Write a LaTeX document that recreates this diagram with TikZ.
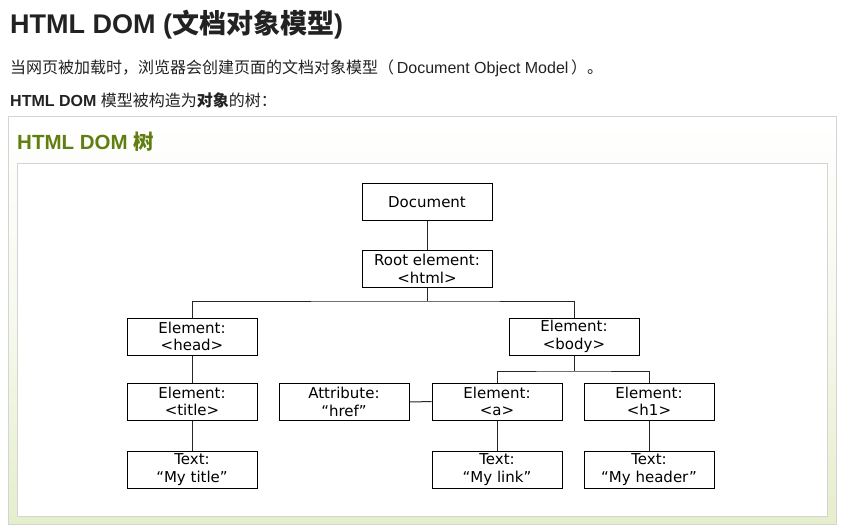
\documentclass[tikz,border=0pt]{standalone}
\usepackage{fontspec}
\setmainfont{Liberation Sans}
\newfontfamily\cjk{Noto Sans CJK SC}
\newfontfamily\verd{DejaVu Sans}
\definecolor{txt}{RGB}{34,34,34}
\definecolor{hgreen}{RGB}{97,127,16}
\definecolor{bord}{RGB}{212,212,212}
\definecolor{pale}{RGB}{229,238,204}
\begin{document}
\begin{tikzpicture}[x=1pt,y=-1pt,
  textline/.style={anchor=base west,inner sep=0pt,text=txt},
  domnode/.style={draw=black,line width=1pt,fill=white,minimum width=130pt,minimum height=37pt,
    inner sep=0pt,align=center,font=\verd\fontsize{15}{17.5}\selectfont},
  link/.style={draw=black!85,line width=1pt}]
\useasboundingbox (0,0) rectangle (845,529);
\fill[white] (0,0) rectangle (845,529);
% texts
\node[textline,font=\bfseries\fontsize{27}{30}\selectfont] (t1) at (10,34) {HTML DOM ({\cjk\bfseries 文档对象模型})};
\node[textline,font=\fontsize{16}{19}\selectfont] (t2) at (10,74) {{\cjk 当网页被加载时，浏览器会创建页面的文档对象模型（}\,Document Object Model\,{\cjk ）。}};
\node[textline,font=\fontsize{16}{19}\selectfont] (t3) at (10,107) {\textbf{HTML DOM} {\cjk 模型被构造为{\bfseries 对象}的树：}};
% outer box
\shade[top color=white,bottom color=pale,middle color=pale!35,draw=bord,line width=1pt] (8.5,116.5) rectangle (836.5,524.5);
\node[anchor=base west,inner sep=0pt,text=hgreen,font=\bfseries\fontsize{20.5}{24}\selectfont] (h) at (17,150) {HTML DOM {\cjk\bfseries 树}};
\draw[bord,fill=white,line width=1pt] (17.5,163.5) rectangle (827.5,516.5);
% tree
\node[domnode] (doc) at (427,202.5) {Document};
\node[domnode] (root) at (427,269) {Root element:\\<html>};
\node[domnode] (head) at (192,336.5) {Element:\\<head>};
\node[domnode] (body) at (574,336.5) {Element:\\<body>};
\node[domnode] (title) at (192,401.5) {Element:\\<title>};
\node[domnode] (attr) at (344,402) {Attribute:\\“href”};
\node[domnode] (a) at (497,401.5) {Element:\\<a>};
\node[domnode] (h1) at (649,401.5) {Element:\\<h1>};
\node[domnode] (mytitle) at (192,469.5) {Text:\\“My title”};
\node[domnode] (mylink) at (497,469.5) {Text:\\“My link”};
\node[domnode] (myheader) at (649,469.5) {Text:\\“My header”};
\coordinate (bus) at (427,301);
\coordinate (bus2) at (574,371);
\draw[link] (doc) -- (root);
\draw[link] (root.south) -- (bus);
\draw[link] (head.north) |- (bus) -| (body.north);
\draw[link] (body.south) -- (bus2);
\draw[link] (a.north) |- (bus2) -| (h1.north);
\draw[link] (head) -- (title);
\draw[link] (title) -- (mytitle);
\draw[link] (attr) -- (a);
\draw[link] (a) -- (mylink);
\draw[link] (h1) -- (myheader);
\end{tikzpicture}
\end{document}
